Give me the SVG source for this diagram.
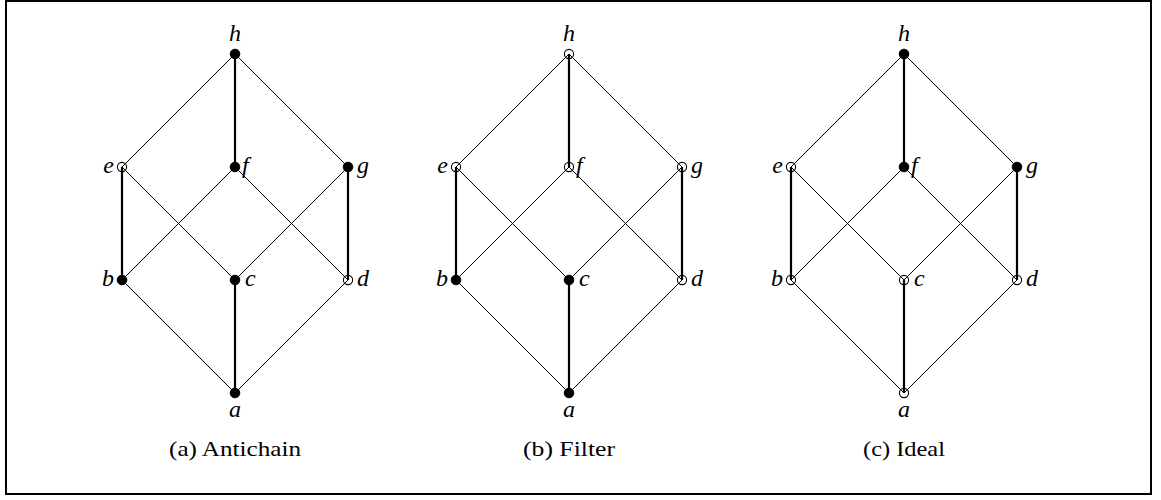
<svg xmlns="http://www.w3.org/2000/svg" width="1161" height="500" viewBox="0 0 1161 500">
  <style>
    .frame { fill: none; stroke: #000; stroke-width: 2; }
    .thin { stroke: #000; stroke-width: 1; fill: none; }
    .thick { stroke: #000; stroke-width: 2.2; fill: none; }
    .on { fill: #000; stroke: #000; stroke-width: 1; }
    .off { fill: none; stroke: #000; stroke-width: 1.1; }
    .lbl { font-family: "Liberation Serif", "DejaVu Serif", serif; font-style: italic; font-size: 24px; fill: #000; }
    .cap { font-family: "Liberation Serif", "DejaVu Serif", serif; font-size: 21px; fill: #000; }
  </style>
  <defs>
    <!-- Edges of the 8-element lattice, relative to the top element h at (0,0) -->
    <g id="edges">
      <line class="thin" x1="0" y1="0" x2="-113" y2="113"/>
      <line class="thin" x1="0" y1="0" x2="113" y2="113"/>
      <line class="thick" x1="0" y1="0" x2="0" y2="113"/>
      <line class="thin" x1="-113" y1="113" x2="0" y2="226"/>
      <line class="thin" x1="0" y1="113" x2="-113" y2="226"/>
      <line class="thin" x1="0" y1="113" x2="113" y2="226"/>
      <line class="thin" x1="113" y1="113" x2="0" y2="226"/>
      <line class="thick" x1="-113" y1="113" x2="-113" y2="226"/>
      <line class="thick" x1="113" y1="113" x2="113" y2="226"/>
      <line class="thin" x1="-113" y1="226" x2="0" y2="339"/>
      <line class="thin" x1="113" y1="226" x2="0" y2="339"/>
      <line class="thick" x1="0" y1="226" x2="0" y2="339"/>
    </g>
  </defs>

  <rect class="frame" x="6" y="1" width="1145" height="493"/>

  <!-- (a) Antichain -->
  <g id="panel-a" transform="translate(235,54)">
    <g id="a-connectors"><use href="#edges"/></g>
    <g id="a-h"><circle class="on" cx="0" cy="0" r="4.8"/><text class="lbl" x="0" y="-13" text-anchor="middle">h</text></g>
    <g id="a-e"><circle class="off" cx="-113" cy="113" r="4.6"/><text class="lbl" x="-121" y="119" text-anchor="end">e</text></g>
    <g id="a-f"><circle class="on" cx="0" cy="113" r="4.8"/><text class="lbl" x="7" y="119">f</text></g>
    <g id="a-g"><circle class="on" cx="113" cy="113" r="4.8"/><text class="lbl" x="122" y="119">g</text></g>
    <g id="a-b"><circle class="on" cx="-113" cy="226" r="4.8"/><text class="lbl" x="-121" y="232" text-anchor="end">b</text></g>
    <g id="a-c"><circle class="on" cx="0" cy="226" r="4.8"/><text class="lbl" x="10" y="232">c</text></g>
    <g id="a-d"><circle class="off" cx="113" cy="226" r="4.6"/><text class="lbl" x="122" y="232">d</text></g>
    <g id="a-a"><circle class="on" cx="0" cy="339" r="4.8"/><text class="lbl" x="0" y="363" text-anchor="middle">a</text></g>
    <text class="cap" x="0" y="402" text-anchor="middle" textLength="132" lengthAdjust="spacingAndGlyphs">(a)  Antichain</text>
  </g>

  <!-- (b) Filter -->
  <g id="panel-b" transform="translate(569,54)">
    <g id="b-connectors"><use href="#edges"/></g>
    <g id="b-h"><circle class="off" cx="0" cy="0" r="4.6"/><text class="lbl" x="0" y="-13" text-anchor="middle">h</text></g>
    <g id="b-e"><circle class="off" cx="-113" cy="113" r="4.6"/><text class="lbl" x="-121" y="119" text-anchor="end">e</text></g>
    <g id="b-f"><circle class="off" cx="0" cy="113" r="4.6"/><text class="lbl" x="7" y="119">f</text></g>
    <g id="b-g"><circle class="off" cx="113" cy="113" r="4.6"/><text class="lbl" x="122" y="119">g</text></g>
    <g id="b-b"><circle class="on" cx="-113" cy="226" r="4.8"/><text class="lbl" x="-121" y="232" text-anchor="end">b</text></g>
    <g id="b-c"><circle class="on" cx="0" cy="226" r="4.8"/><text class="lbl" x="10" y="232">c</text></g>
    <g id="b-d"><circle class="off" cx="113" cy="226" r="4.6"/><text class="lbl" x="122" y="232">d</text></g>
    <g id="b-a"><circle class="on" cx="0" cy="339" r="4.8"/><text class="lbl" x="0" y="363" text-anchor="middle">a</text></g>
    <text class="cap" x="0" y="402" text-anchor="middle" textLength="92" lengthAdjust="spacingAndGlyphs">(b)  Filter</text>
  </g>

  <!-- (c) Ideal -->
  <g id="panel-c" transform="translate(904,54)">
    <g id="c-connectors"><use href="#edges"/></g>
    <g id="c-h"><circle class="on" cx="0" cy="0" r="4.8"/><text class="lbl" x="0" y="-13" text-anchor="middle">h</text></g>
    <g id="c-e"><circle class="off" cx="-113" cy="113" r="4.6"/><text class="lbl" x="-121" y="119" text-anchor="end">e</text></g>
    <g id="c-f"><circle class="on" cx="0" cy="113" r="4.8"/><text class="lbl" x="7" y="119">f</text></g>
    <g id="c-g"><circle class="on" cx="113" cy="113" r="4.8"/><text class="lbl" x="122" y="119">g</text></g>
    <g id="c-b"><circle class="off" cx="-113" cy="226" r="4.6"/><text class="lbl" x="-121" y="232" text-anchor="end">b</text></g>
    <g id="c-c"><circle class="off" cx="0" cy="226" r="4.6"/><text class="lbl" x="10" y="232">c</text></g>
    <g id="c-d"><circle class="off" cx="113" cy="226" r="4.6"/><text class="lbl" x="122" y="232">d</text></g>
    <g id="c-a"><circle class="off" cx="0" cy="339" r="4.6"/><text class="lbl" x="0" y="363" text-anchor="middle">a</text></g>
    <text class="cap" x="0" y="402" text-anchor="middle" textLength="82" lengthAdjust="spacingAndGlyphs">(c)  Ideal</text>
  </g>
</svg>
